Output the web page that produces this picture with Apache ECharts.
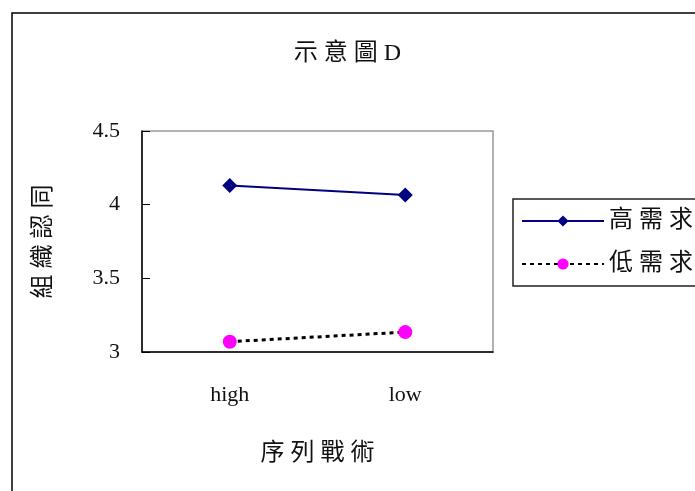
<!DOCTYPE html>
<html>
<head>
<meta charset="utf-8">
<script src="https://cdn.jsdelivr.net/npm/echarts@6/dist/echarts.min.js"></script>
<style>
  html, body { margin: 0; padding: 0; background: #fff; }
  #chart { width: 695px; height: 491px; }
</style>
</head>
<body>
<div id="chart"></div>
<script>
// Categories along the x axis
const categories = ['high', 'low'];
// Mean scores for each demand group
const highDemand = [4.13, 4.065];
const lowDemand = [3.07, 3.135];
// Y axis range
const yMin = 3, yMax = 4.5, yStep = 0.5;

const fontStack = '"Liberation Serif", "Noto Sans CJK TC", serif';
// Spread CJK glyphs apart a little
const spaced = s => s.split('').join(' ');

const chart = echarts.init(document.getElementById('chart'));
chart.setOption({
  animation: false,
  backgroundColor: '#fff',
  title: {
    text: spaced('示意圖D'),
    left: 'center',
    top: 37,
    textStyle: { fontFamily: fontStack, fontSize: 24, fontWeight: 'normal', color: '#111' }
  },
  graphic: [{
    type: 'rect',
    shape: { x: 12, y: 13, width: 720, height: 520 },
    style: { fill: 'none', stroke: '#000', lineWidth: 1.5 },
    silent: true
  }],
  grid: {
    left: 142, top: 131, width: 351, height: 221,
    show: true, borderColor: '#999', borderWidth: 1.5, backgroundColor: '#fff'
  },
  legend: {
    left: 513, top: 199,
    orient: 'vertical',
    backgroundColor: '#fff',
    borderColor: '#222', borderWidth: 1.5,
    padding: [10, 10, 10, 8],
    itemGap: 19,
    itemWidth: 82, itemHeight: 14,
    formatter: spaced,
    textStyle: { fontFamily: fontStack, fontSize: 24, color: '#111' },
    data: ['高需求', '低需求']
  },
  xAxis: {
    type: 'category',
    data: categories,
    boundaryGap: true,
    name: spaced('序列戰術'),
    nameLocation: 'middle',
    nameGap: 90,
    nameTextStyle: { fontFamily: fontStack, fontSize: 24, color: '#111' },
    axisLine: { lineStyle: { color: '#000', width: 1.5 } },
    axisTick: { inside: true, length: 8, lineStyle: { color: '#000' } },
    axisLabel: { fontFamily: fontStack, fontSize: 22, color: '#111', margin: 32 }
  },
  yAxis: {
    type: 'value',
    min: yMin, max: yMax, interval: yStep,
    name: spaced('組織認同'),
    nameLocation: 'middle',
    nameGap: 86,
    nameRotate: 90,
    nameTextStyle: { fontFamily: fontStack, fontSize: 24, color: '#111' },
    splitLine: { show: false },
    axisLine: { show: true, lineStyle: { color: '#000', width: 1.5 } },
    axisTick: { show: true, inside: true, length: 8, lineStyle: { color: '#000' } },
    axisLabel: { fontFamily: fontStack, fontSize: 22, color: '#111', margin: 22 }
  },
  series: [
    {
      name: '高需求',
      type: 'line',
      data: highDemand,
      symbol: 'diamond',
      symbolSize: 15,
      itemStyle: { color: '#000080' },
      lineStyle: { color: '#000080', width: 2 }
    },
    {
      name: '低需求',
      type: 'line',
      data: lowDemand,
      symbol: 'circle',
      symbolSize: 14,
      itemStyle: { color: '#ff00ff' },
      lineStyle: { color: '#000', width: 3, type: [4, 4] }
    }
  ]
});
</script>
</body>
</html>
